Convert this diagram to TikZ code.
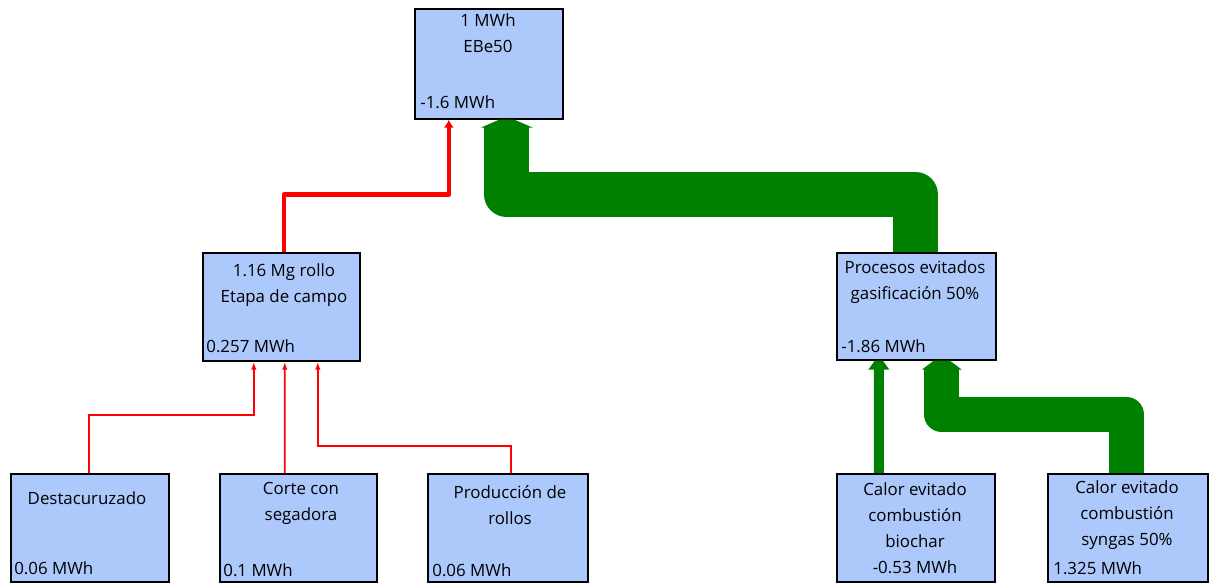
\documentclass[tikz,border=0pt]{standalone}
\usepackage{fontspec}
\setmainfont{Open Sans}
\usepackage{tikz}
\usepackage{xcolor}
\usetikzlibrary{arrows.meta,positioning,calc}
\definecolor{boxblue}{RGB}{173,200,250}
\definecolor{flowgreen}{RGB}{0,128,0}
\definecolor{flowred}{RGB}{255,0,0}

\begin{document}
\begin{tikzpicture}[x=0.02cm, y=-0.02cm, >=Latex,
  every node/.style={font=\fontsize{9.6}{14.8}\selectfont},
  blk/.style={draw=black, line width=0.95pt, fill=boxblue, anchor=north west, inner sep=0pt, minimum height=2.16cm},
  ttl/.style={align=center, inner sep=0pt},
  val/.style={anchor=base west, inner sep=0pt},
  thinred/.style={flowred, line width=1pt, -{Latex[length=4.5pt,width=3pt]}},
  thickred/.style={flowred, line width=2.6pt, line join=round, -{Latex[length=4.5pt,width=5.7pt]}},
  greenflow/.style={flowgreen, line join=round}]
\fill[white] (0,0) rectangle (1211,583);
\useasboundingbox (0,0) rectangle (1211,583);

\node[blk, minimum width=2.96cm, minimum height=2.2cm] (ebe) at (414,8) {};
\node[blk, minimum width=3.14cm] (campo) at (202,252) {};
\node[blk, minimum width=3.16cm] (desta) at (10,473) {};
\node[blk, minimum width=3.14cm] (corte) at (219,473) {};
\node[blk, minimum width=3.2cm] (prod) at (427,473) {};
\node[blk, minimum width=3.18cm, minimum height=2.14cm] (proc) at (836,252) {};
\node[blk, minimum width=3.16cm] (bioc) at (836,473) {};
\node[blk, minimum width=3.2cm] (syng) at (1047,473) {};

\node[ttl] (ebet) at (488,33) {1 MWh\\EBe50};
\node[val] (ebev) at (420,108) {-1.6 MWh};
\node[ttl] (campot) at (284,285) {1.16 Mg rollo\\Etapa de campo};
\node[val] (campov) at (206,352) {0.257 MWh};
\node[ttl] (destat) at (87,498) {Destacuruzado};
\node[val] (destav) at (14,574) {0.06 MWh};
\node[ttl] (cortet) at (301,503) {Corte con\\segadora};
\node[val] (cortev) at (223,576) {0.1 MWh};
\node[ttl] (prodt) at (510,505) {Producción de\\rollos};
\node[val] (prodv) at (432,576) {0.06 MWh};
\node[ttl] (proct) at (915,282) {Procesos evitados\\gasificación 50\%};
\node[val] (procv) at (841,352) {-1.86 MWh};
\node[ttl] (bioct) at (915,528) {Calor evitado\\combustión\\biochar\\-0.53 MWh};
\node[ttl] (syngt) at (1127,515) {Calor evitado\\combustión\\syngas 50\%};
\node[val] (syngv) at (1053,574) {1.325 MWh};

% energia de la etapa de campo
\draw[thinred] ($(desta.north)+(-1,0)$) |- ($(campo.south)+(-27.5,53)$) -- ($(campo.south)+(-27.5,0)$);
\draw[thinred] ($(corte.north)+(-13.5,0)$) -- ($(campo.south)+(3.5,0)$);
\draw[thinred] ($(prod.north)+(3,0)$) |- ($(campo.south)+(36.5,84)$) -- ($(campo.south)+(36.5,0)$);
\draw[thickred] ($(campo.north)+(2.5,0)$) |- ($(ebe.south)+(-40,75)$) -- ($(ebe.south)+(-40,0)$);

% procesos evitados
\draw[greenflow, line width=25.5pt] ($(proc.north)+(-0.5,0)$) |- ($(ebe.south)+(18,75)$) -- ($(ebe.south)+(18,7)$);
\fill[flowgreen] ($(ebe.south)+(10.5,0)$) -- ++(15,0) -- ++(18.5,8) -- ++(-52,0) -- cycle;
\draw[greenflow, line width=19.8pt] ($(syng.north)+(-1,0)$) |- ($(proc.south)+(25.5,54)$) -- ($(proc.south)+(25.5,8)$);
\fill[flowgreen] ($(proc.south)+(17.5,0)$) -- ++(16,0) -- ++(12,9) -- ++(-40,0) -- cycle;
\draw[greenflow, line width=5.7pt] ($(bioc.north)+(-37,0)$) -- ($(proc.south)+(-37.5,8)$);
\fill[flowgreen] ($(proc.south)+(-41.5,0)$) -- ++(8,0) -- ++(6.5,9) -- ++(-21,0) -- cycle;
\end{tikzpicture}
\end{document}
